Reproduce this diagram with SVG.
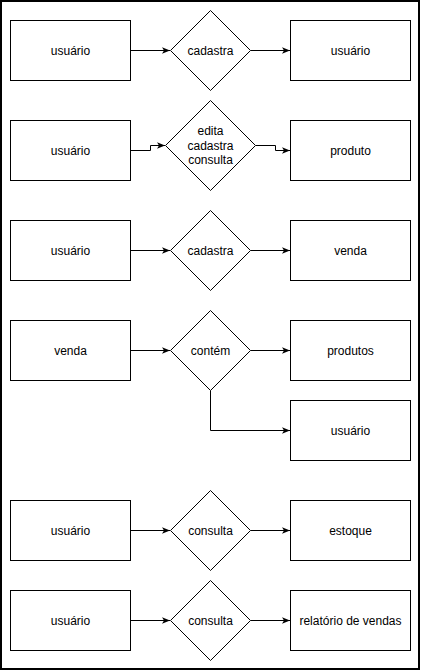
<svg xmlns="http://www.w3.org/2000/svg" width="421" height="671" viewBox="0 0 421 671">
<style>
.box{fill:#fff;stroke:#000;stroke-width:1}
.t{font-family:"Liberation Sans",Arial,sans-serif;font-size:12px;fill:#000;text-anchor:middle;dominant-baseline:central}
.c{fill:none;stroke:#000;stroke-width:1;marker-end:url(#arr)}
</style>
<defs>
<marker id="arr" viewBox="0 0 10 10" refX="10" refY="5" markerWidth="8" markerHeight="8" markerUnits="userSpaceOnUse" orient="auto">
<path d="M0,1 L10,5 L0,9 L2.5,5 Z" fill="#000"/>
</marker>
</defs>
<rect x="1" y="1" width="418" height="668" fill="#fff" stroke="#000" stroke-width="2"/>
<g id="connectors">
<path class="c" d="M130.5,50.5 H170"/>
<path class="c" d="M250.5,50.5 H290"/>
<path class="c" d="M130.5,150.5 H150.5 V145.5 H165"/>
<path class="c" d="M255.5,145.5 H275.5 V150.5 H290"/>
<path class="c" d="M130.5,250.5 H170"/>
<path class="c" d="M250.5,250.5 H290"/>
<path class="c" d="M130.5,350.5 H170"/>
<path class="c" d="M250.5,350.5 H290"/>
<path class="c" d="M210.5,390.5 V430.5 H290"/>
<path class="c" d="M130.5,530.5 H170"/>
<path class="c" d="M250.5,530.5 H290"/>
<path class="c" d="M130.5,620.5 H170"/>
<path class="c" d="M250.5,620.5 H290"/>
</g>
<g id="n1"><rect class="box" x="10.5" y="20.5" width="120" height="60"/><text class="t" x="70.5" y="50.5">usuário</text></g>
<g id="d1"><path class="box" d="M210.5,10.5 L250.5,50.5 L210.5,90.5 L170.5,50.5 Z"/><text class="t" x="210.5" y="50.5">cadastra</text></g>
<g id="n2"><rect class="box" x="290.5" y="20.5" width="120" height="60"/><text class="t" x="350.5" y="50.5">usuário</text></g>
<g id="n3"><rect class="box" x="10.5" y="120.5" width="120" height="60"/><text class="t" x="70.5" y="150.5">usuário</text></g>
<g id="d2"><path class="box" d="M210.5,100.5 L255.5,145.5 L210.5,190.5 L165.5,145.5 Z"/><text class="t" x="210.5" y="131">edita</text><text class="t" x="210.5" y="145.5">cadastra</text><text class="t" x="210.5" y="160">consulta</text></g>
<g id="n4"><rect class="box" x="290.5" y="120.5" width="120" height="60"/><text class="t" x="350.5" y="150.5">produto</text></g>
<g id="n5"><rect class="box" x="10.5" y="220.5" width="120" height="60"/><text class="t" x="70.5" y="250.5">usuário</text></g>
<g id="d3"><path class="box" d="M210.5,210.5 L250.5,250.5 L210.5,290.5 L170.5,250.5 Z"/><text class="t" x="210.5" y="250.5">cadastra</text></g>
<g id="n6"><rect class="box" x="290.5" y="220.5" width="120" height="60"/><text class="t" x="350.5" y="250.5">venda</text></g>
<g id="n7"><rect class="box" x="10.5" y="320.5" width="120" height="60"/><text class="t" x="70.5" y="350.5">venda</text></g>
<g id="d4"><path class="box" d="M210.5,310.5 L250.5,350.5 L210.5,390.5 L170.5,350.5 Z"/><text class="t" x="210.5" y="350.5">contém</text></g>
<g id="n8"><rect class="box" x="290.5" y="320.5" width="120" height="60"/><text class="t" x="350.5" y="350.5">produtos</text></g>
<g id="n9"><rect class="box" x="290.5" y="400.5" width="120" height="60"/><text class="t" x="350.5" y="430.5">usuário</text></g>
<g id="n10"><rect class="box" x="10.5" y="500.5" width="120" height="60"/><text class="t" x="70.5" y="530.5">usuário</text></g>
<g id="d5"><path class="box" d="M210.5,490.5 L250.5,530.5 L210.5,570.5 L170.5,530.5 Z"/><text class="t" x="210.5" y="530.5">consulta</text></g>
<g id="n11"><rect class="box" x="290.5" y="500.5" width="120" height="60"/><text class="t" x="350.5" y="530.5">estoque</text></g>
<g id="n12"><rect class="box" x="10.5" y="590.5" width="120" height="60"/><text class="t" x="70.5" y="620.5">usuário</text></g>
<g id="d6"><path class="box" d="M210.5,580.5 L250.5,620.5 L210.5,660.5 L170.5,620.5 Z"/><text class="t" x="210.5" y="620.5">consulta</text></g>
<g id="n13"><rect class="box" x="290.5" y="590.5" width="120" height="60"/><text class="t" x="350.5" y="620.5">relatório de vendas</text></g>
</svg>
